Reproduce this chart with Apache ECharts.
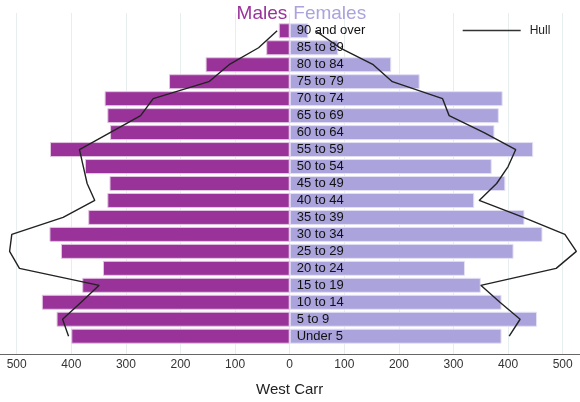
<!DOCTYPE html>
<html><head><meta charset="utf-8">
<script src="https://cdn.jsdelivr.net/npm/echarts@6/dist/echarts.min.js"></script>
<style>html,body{margin:0;padding:0;background:#fff}#c{width:580px;height:402px}</style>
</head><body><div id="c"></div>
<script>
const ageGroups = ['90 and over','85 to 89','80 to 84','75 to 79','70 to 74','65 to 69','60 to 64','55 to 59','50 to 54','45 to 49','40 to 44','35 to 39','30 to 34','25 to 29','20 to 24','15 to 19','10 to 14','5 to 9','Under 5'];
const males   = [20,43,154,221,339,334,329,439,375,330,334,369,440,419,342,380,454,427,400];
const females = [34,89,186,238,390,383,375,446,370,395,338,430,463,410,321,350,388,453,388];
const hullMales   = [23,57,111,148,250,273,329,385,378,371,357,415,509,513,495,349,382,416,405];
const hullFemales = [47,92,153,188,280,292,356,414,400,379,347,428,504,525,488,350,385,422,402];
const axisMin = -500, axisMax = 500, axisStep = 100;
const axisTitle = 'West Carr';

const chart = echarts.init(document.getElementById('c'), null, {renderer:'canvas'});
const FONT = 'Liberation Sans, Arial, sans-serif';
chart.setOption({
  animation: false,
  textStyle: {fontFamily: FONT},
  title: [
    {text:'Males', left:287.3, top:4, padding:0, textAlign:'right',
     textStyle:{fontFamily:FONT, fontSize:19, fontWeight:'normal', color:'#993399'}},
    {text:'Females', left:293.3, top:4, padding:0, textAlign:'left',
     textStyle:{fontFamily:FONT, fontSize:19, fontWeight:'normal', color:'#aaa3dc'}}
  ],
  legend: {data:['Hull'], left:462.7, top:24.5, padding:0, itemWidth:58, itemHeight:1.5,
    icon:'rect', itemStyle:{color:'#333'},
    textStyle:{fontFamily:FONT, fontSize:12, color:'#222', padding:[0,0,0,4]}},
  grid: [
    {left:16.7, right:17.3, top:22.3, height:322.4},
    {left:16.7, right:17.3, top:13, height:341},
    {left:0, right:0, top:13, height:341}
  ],
  xAxis: [
    {gridIndex:0, type:'value', min:axisMin, max:axisMax, interval:axisStep, show:false},
    {gridIndex:1, type:'value', min:axisMin, max:axisMax, interval:axisStep,
     axisLine:{show:false}, axisTick:{show:false},
     splitLine:{show:true, lineStyle:{color:'#e6eeee', width:1}},
     axisLabel:{margin:5, fontFamily:FONT, fontSize:12, color:'#333', formatter:v=>String(Math.abs(v))},
     name: axisTitle, nameLocation:'middle', nameGap:28,
     nameTextStyle:{fontFamily:FONT, fontSize:15, color:'#222'}},
    {gridIndex:2, type:'value', min:0, max:1, axisLine:{show:true, onZero:false, lineStyle:{color:'#666', width:1.2}},
     axisTick:{show:false}, axisLabel:{show:false}, splitLine:{show:false}}
  ],
  yAxis: [
    {gridIndex:0, type:'category', data:ageGroups, inverse:true, show:false},
    {gridIndex:1, type:'value', show:false},
    {gridIndex:2, type:'value', show:false}
  ],
  series: [
    {name:'Males', type:'bar', xAxisIndex:0, yAxisIndex:0, barWidth:15, barGap:'-100%',
     data: males.map(v=>-v),
     itemStyle:{color:'#993399', borderColor:'#e2c6e2', borderWidth:1}},
    {name:'Females', type:'bar', xAxisIndex:0, yAxisIndex:0, barWidth:15, barGap:'-100%',
     data: females,
     itemStyle:{color:'#aaa3dc', borderColor:'#e4e1f4', borderWidth:1},
     label:{show:true, position:'insideLeft', distance:7, formatter:p=>p.name,
       fontFamily:FONT, fontSize:13, color:'#111'}},
    {name:'Hull', type:'line', xAxisIndex:0, yAxisIndex:0, data: hullMales.map(v=>-v), clip:false,
     symbol:'none', lineStyle:{color:'#222', width:1.4}, itemStyle:{color:'#333'}, z:5},
    {name:'Hull', type:'line', xAxisIndex:0, yAxisIndex:0, data: hullFemales, clip:false,
     symbol:'none', lineStyle:{color:'#222', width:1.4}, itemStyle:{color:'#333'}, z:5}
  ]
});
</script></body></html>
